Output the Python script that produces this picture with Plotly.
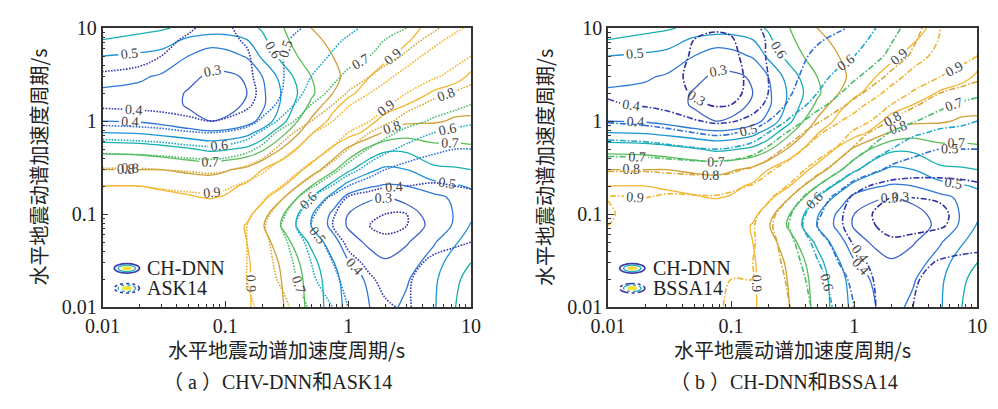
import plotly.graph_objects as go

# spectral periods (s) of the correlation grid
periods = [0.01, 0.02, 0.03, 0.05, 0.075, 0.1, 0.15, 0.2, 0.3, 0.5, 0.75, 1, 1.5, 2, 3, 5, 7.5, 10]

# CH-DNN correlation (rows: y period, cols: x period)
rho_chdnn = [
    [0.99,0.98,0.97,0.96,0.95,0.94,0.91,0.87,0.80,0.67,0.55,0.47,0.40,0.37,0.42,0.49,0.60,0.63],
    [0.98,0.99,0.98,0.97,0.96,0.94,0.91,0.87,0.79,0.66,0.54,0.45,0.38,0.35,0.39,0.48,0.59,0.62],
    [0.97,0.98,0.99,0.98,0.96,0.94,0.91,0.86,0.78,0.64,0.51,0.41,0.34,0.31,0.35,0.45,0.56,0.60],
    [0.96,0.97,0.98,0.99,0.98,0.95,0.90,0.84,0.74,0.58,0.44,0.34,0.28,0.26,0.29,0.39,0.49,0.55],
    [0.95,0.96,0.97,0.98,0.99,0.97,0.89,0.81,0.68,0.50,0.37,0.29,0.25,0.24,0.26,0.32,0.42,0.51],
    [0.94,0.95,0.96,0.97,0.98,0.99,0.93,0.84,0.70,0.51,0.38,0.30,0.26,0.25,0.27,0.33,0.41,0.48],
    [0.93,0.93,0.92,0.91,0.895,0.91,0.99,0.93,0.80,0.60,0.46,0.37,0.31,0.30,0.32,0.37,0.42,0.47],
    [0.90,0.90,0.89,0.87,0.86,0.87,0.92,0.99,0.90,0.70,0.56,0.46,0.41,0.39,0.40,0.46,0.49,0.51],
    [0.80,0.80,0.80,0.78,0.77,0.79,0.83,0.90,0.99,0.86,0.72,0.62,0.52,0.48,0.50,0.58,0.59,0.60],
    [0.67,0.66,0.64,0.61,0.58,0.59,0.62,0.68,0.82,0.99,0.88,0.78,0.67,0.62,0.62,0.67,0.67,0.68],
    [0.50,0.49,0.47,0.44,0.42,0.43,0.47,0.54,0.68,0.89,0.99,0.95,0.86,0.78,0.74,0.75,0.75,0.75],
    [0.40,0.39,0.37,0.33,0.30,0.31,0.36,0.43,0.58,0.82,0.93,0.99,0.93,0.86,0.82,0.81,0.79,0.79],
    [0.37,0.36,0.34,0.29,0.26,0.27,0.31,0.38,0.53,0.72,0.87,0.93,0.99,0.95,0.90,0.85,0.83,0.82],
    [0.39,0.38,0.35,0.29,0.25,0.26,0.30,0.38,0.52,0.68,0.80,0.88,0.94,0.99,0.95,0.89,0.87,0.86],
    [0.42,0.41,0.39,0.33,0.28,0.28,0.31,0.40,0.55,0.70,0.78,0.82,0.90,0.94,0.99,0.95,0.92,0.89],
    [0.50,0.48,0.46,0.40,0.35,0.36,0.41,0.52,0.64,0.76,0.80,0.81,0.84,0.88,0.93,0.99,0.96,0.93],
    [0.60,0.58,0.56,0.48,0.45,0.46,0.50,0.58,0.68,0.79,0.81,0.82,0.84,0.86,0.89,0.95,0.99,0.97],
    [0.63,0.62,0.61,0.58,0.56,0.55,0.57,0.61,0.70,0.80,0.82,0.83,0.84,0.86,0.88,0.92,0.97,0.99],
]

# ASK14 correlation
rho_ask14 = [
    [0.97,0.97,0.96,0.96,0.95,0.94,0.91,0.89,0.83,0.68,0.60,0.50,0.43,0.41,0.39,0.45,0.46,0.46],
    [0.97,0.97,0.97,0.96,0.95,0.94,0.90,0.86,0.77,0.62,0.53,0.46,0.41,0.38,0.39,0.44,0.45,0.45],
    [0.97,0.97,0.97,0.97,0.96,0.94,0.90,0.85,0.75,0.60,0.50,0.43,0.38,0.36,0.37,0.42,0.43,0.43],
    [0.96,0.97,0.97,0.97,0.97,0.95,0.90,0.84,0.72,0.56,0.45,0.38,0.33,0.31,0.33,0.37,0.39,0.40],
    [0.95,0.96,0.96,0.97,0.97,0.96,0.90,0.82,0.68,0.50,0.40,0.34,0.30,0.29,0.30,0.33,0.36,0.37],
    [0.94,0.95,0.95,0.96,0.97,0.97,0.93,0.85,0.71,0.52,0.41,0.35,0.31,0.30,0.30,0.32,0.35,0.36],
    [0.93,0.93,0.93,0.92,0.92,0.94,0.97,0.92,0.80,0.60,0.47,0.39,0.35,0.33,0.33,0.34,0.36,0.37],
    [0.90,0.90,0.89,0.88,0.87,0.88,0.93,0.97,0.89,0.72,0.59,0.50,0.44,0.41,0.40,0.39,0.40,0.41],
    [0.81,0.81,0.80,0.79,0.78,0.79,0.83,0.88,0.97,0.86,0.74,0.65,0.55,0.50,0.46,0.44,0.44,0.45],
    [0.67,0.66,0.65,0.63,0.62,0.63,0.67,0.73,0.85,0.97,0.89,0.80,0.69,0.63,0.57,0.52,0.50,0.50],
    [0.55,0.54,0.53,0.51,0.50,0.51,0.55,0.62,0.75,0.89,0.97,0.90,0.80,0.74,0.66,0.60,0.57,0.56],
    [0.47,0.46,0.45,0.42,0.40,0.41,0.45,0.52,0.64,0.80,0.90,0.97,0.90,0.83,0.75,0.68,0.64,0.62],
    [0.38,0.37,0.36,0.35,0.34,0.35,0.38,0.44,0.54,0.70,0.80,0.89,0.97,0.92,0.84,0.77,0.73,0.70],
    [0.37,0.36,0.35,0.34,0.33,0.34,0.37,0.42,0.51,0.64,0.73,0.81,0.90,0.97,0.90,0.83,0.79,0.76],
    [0.39,0.38,0.37,0.35,0.34,0.35,0.38,0.43,0.50,0.60,0.67,0.73,0.80,0.86,0.97,0.91,0.87,0.84],
    [0.43,0.42,0.40,0.37,0.35,0.36,0.39,0.44,0.50,0.56,0.61,0.65,0.70,0.75,0.82,0.97,0.93,0.90],
    [0.45,0.44,0.42,0.39,0.37,0.38,0.41,0.45,0.49,0.54,0.58,0.61,0.66,0.70,0.75,0.84,0.96,0.93],
    [0.46,0.45,0.44,0.41,0.38,0.39,0.42,0.45,0.48,0.51,0.55,0.58,0.62,0.65,0.70,0.78,0.86,0.94],
]

# BSSA14 correlation
rho_bssa14 = [
    [0.94,0.94,0.94,0.93,0.91,0.89,0.89,0.87,0.80,0.67,0.57,0.50,0.40,0.38,0.40,0.44,0.47,0.48],
    [0.93,0.95,0.95,0.94,0.92,0.90,0.90,0.87,0.78,0.64,0.54,0.47,0.39,0.37,0.39,0.43,0.45,0.46],
    [0.92,0.95,0.96,0.96,0.95,0.92,0.90,0.86,0.76,0.61,0.50,0.44,0.37,0.35,0.37,0.41,0.42,0.42],
    [0.91,0.94,0.96,0.96,0.96,0.95,0.91,0.85,0.73,0.56,0.45,0.39,0.33,0.31,0.32,0.35,0.37,0.38],
    [0.90,0.93,0.95,0.96,0.96,0.95,0.91,0.83,0.69,0.50,0.42,0.35,0.30,0.28,0.28,0.29,0.33,0.36],
    [0.895,0.92,0.94,0.95,0.96,0.96,0.93,0.85,0.71,0.52,0.42,0.35,0.29,0.27,0.27,0.28,0.33,0.35],
    [0.90,0.90,0.91,0.91,0.91,0.93,0.96,0.92,0.80,0.58,0.45,0.38,0.32,0.30,0.30,0.31,0.35,0.37],
    [0.88,0.88,0.88,0.87,0.86,0.87,0.91,0.96,0.89,0.70,0.55,0.44,0.38,0.36,0.36,0.37,0.38,0.39],
    [0.79,0.79,0.78,0.77,0.77,0.78,0.82,0.88,0.96,0.85,0.72,0.62,0.52,0.47,0.44,0.43,0.43,0.43],
    [0.65,0.64,0.63,0.61,0.60,0.61,0.65,0.72,0.84,0.96,0.88,0.78,0.66,0.60,0.54,0.50,0.50,0.50],
    [0.56,0.55,0.53,0.50,0.48,0.49,0.53,0.60,0.72,0.88,0.96,0.88,0.76,0.69,0.62,0.58,0.57,0.56],
    [0.49,0.47,0.45,0.41,0.38,0.39,0.43,0.50,0.62,0.78,0.89,0.96,0.88,0.79,0.71,0.64,0.62,0.60],
    [0.41,0.39,0.37,0.32,0.29,0.30,0.36,0.42,0.52,0.65,0.76,0.84,0.96,0.90,0.82,0.73,0.68,0.65],
    [0.39,0.37,0.34,0.29,0.26,0.27,0.33,0.40,0.49,0.60,0.69,0.76,0.86,0.96,0.89,0.80,0.76,0.73],
    [0.38,0.36,0.33,0.28,0.25,0.26,0.33,0.40,0.47,0.56,0.63,0.68,0.76,0.83,0.96,0.90,0.86,0.83],
    [0.38,0.36,0.34,0.29,0.26,0.27,0.35,0.41,0.46,0.52,0.56,0.60,0.67,0.73,0.82,0.96,0.93,0.90],
    [0.38,0.37,0.35,0.30,0.28,0.29,0.36,0.41,0.45,0.49,0.52,0.55,0.63,0.69,0.78,0.91,0.96,0.95],
    [0.39,0.38,0.37,0.33,0.31,0.32,0.38,0.42,0.45,0.47,0.49,0.51,0.60,0.66,0.75,0.90,0.94,0.97],
]

levels = [0.3, 0.4, 0.5, 0.6, 0.7, 0.8, 0.9]
colors_chdnn = ['#3d62c9', '#2d78d6', '#1d95d3', '#17aeb0', '#5abd58', '#d0a038', '#f4b52f']
colors_emp = ['#2a2a9a', '#3438b0', '#3070d6', '#20a8cc', '#4cbc6c', '#d6a83a', '#f2b630']

tick_vals = [0.01, 0.1, 1, 10]
tick_text = ['0.01', '0.1', '1', '10']
minor_vals = [k * 10 ** e for e in (-2, -1, 0) for k in range(2, 10)]

axis_title = '水平地震动谱加速度周期/s'
captions = ['（ a ）CHV-DNN和ASK14', '（ b ）CH-DNN和BSSA14']
legend_names = [['CH-DNN', 'ASK14'], ['CH-DNN', 'BSSA14']]

W, H = 998, 409
panels = [
    dict(x0=87, x1=466, xa='x', ya='y', emp=rho_ask14, dash='1.6px,1.4px'),
    dict(x0=607, x1=987, xa='x2', ya='y2', emp=rho_bssa14, dash='6px,2px,1.6px,2px'),
]
y_top, y_bot = 18, 313


def cscale(cols):
    n = len(cols)
    return [[round(i / (n - 1), 6), c] for i, c in enumerate(cols)]


fig = go.Figure()
serif = 'Liberation Serif, Times New Roman, serif'
cjk = 'Noto Sans CJK SC, sans-serif'

for k, p in enumerate(panels):
    for z, cols, dash, wd in [(rho_chdnn, colors_chdnn, 'solid', 1.3), (p['emp'], colors_emp, p['dash'], 1.6)]:
        fig.add_trace(go.Contour(
            x=periods, y=periods, z=z, xaxis=p['xa'], yaxis=p['ya'],
            zmin=0.3, zmax=0.9, colorscale=cscale(cols), showscale=False,
            contours=dict(start=0.3, end=0.9001, size=0.1, coloring='lines',
                          showlabels=True,
                          labelfont=dict(family=serif, size=14, color='#444')),
            line=dict(width=wd, dash=dash, smoothing=1.0),
            hoverinfo='skip',
        ))

layout = dict(width=W, height=H, margin=dict(l=0, r=0, t=0, b=0),
              paper_bgcolor='white', plot_bgcolor='white', showlegend=False)
axstyle = dict(type='log', range=[-2, 1], showgrid=False, zeroline=False,
               showline=True, linecolor='#333', linewidth=1.5, mirror=True,
               ticks='inside', ticklen=6, tickwidth=1.2, tickcolor='#333',
               tickvals=tick_vals, ticktext=tick_text,
               tickfont=dict(family=serif, size=20, color='#222'),
               minor=dict(ticks='inside', ticklen=3, tickwidth=1, tickcolor='#333',
                          tickvals=minor_vals, showgrid=False))
ydom = [1 - y_bot / H, 1 - y_top / H]
for k, p in enumerate(panels):
    sfx = '' if k == 0 else '2'
    layout['xaxis' + sfx] = dict(axstyle, domain=[p['x0'] / W, p['x1'] / W], anchor='y' + sfx)
    layout['yaxis' + sfx] = dict(axstyle, domain=ydom, anchor='x' + sfx)
fig.update_layout(**layout)

ann = []
shapes = []
for k, p in enumerate(panels):
    cx = (p['x0'] + p['x1']) / 2
    ann.append(dict(x=cx / W, y=1 - 358 / H, xref='paper', yref='paper', text=axis_title,
                    xanchor='center', yanchor='middle',
                    showarrow=False, font=dict(family=cjk, size=20, color='#222')))
    ann.append(dict(x=(p['x0'] - 66) / W, y=1 - 165 / H, xref='paper', yref='paper', text=axis_title,
                    xanchor='center', yanchor='middle',
                    textangle=-90, showarrow=False, font=dict(family=cjk, size=20, color='#222')))
    ann.append(dict(x=(cx - 9) / W, y=1 - 392 / H, xref='paper', yref='paper', text=captions[k],
                    xanchor='center', yanchor='middle',
                    showarrow=False, font=dict(family=serif + ', ' + cjk, size=20, color='#222')))
    # legend
    lx = p['x0'] + 25
    for i, (name, ly) in enumerate(zip(legend_names[k], [272, 293])):
        ring_dash = 'solid' if i == 0 else ('dot' if k == 0 else 'dashdot')
        for (rx, ry, col, fill, lw) in [(13, 5, '#3a3aa8', None, 1.6), (9, 3.4, '#22b0c0', None, 1.4), (5, 1.8, '#f5e23a', '#f5e23a', 1)]:
            shapes.append(dict(type='circle', xref='paper', yref='paper',
                               x0=(lx - rx) / W, x1=(lx + rx) / W,
                               y0=1 - (ly + ry) / H, y1=1 - (ly - ry) / H,
                               line=dict(color=col, width=lw, dash=ring_dash if fill is None else 'solid'),
                               fillcolor=fill if fill else 'rgba(0,0,0,0)'))
        ann.append(dict(x=(lx + 19) / W, y=1 - ly / H, xref='paper', yref='paper', text=name,
                        xanchor='left', yanchor='middle',
                        showarrow=False, font=dict(family=serif, size=20, color='#222')))
fig.update_layout(annotations=ann, shapes=shapes)

fig.write_html('out.html')
